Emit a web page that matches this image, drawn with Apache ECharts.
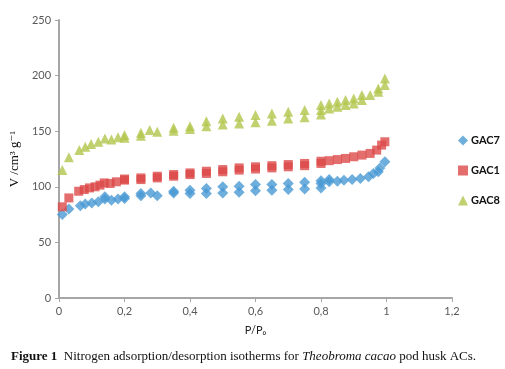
<!DOCTYPE html>
<html>
<head>
<meta charset="utf-8">
<script src="https://cdn.jsdelivr.net/npm/echarts@6/dist/echarts.min.js"></script>
<style>
  html, body { margin: 0; padding: 0; background: #fff; }
  #chart { width: 505px; height: 369px; }
</style>
</head>
<body>
<div id="chart"></div>
<script>
// [P/P0, V] pares (adsorción + desorción)
const gac7 = [
  [0.01, 75], [0.03, 80], [0.065, 83], [0.08, 84.5], [0.1, 85.5], [0.12, 86.5],
  [0.14, 89], [0.14, 91], [0.16, 88], [0.18, 89], [0.2, 91], [0.2, 89.5],
  [0.25, 92], [0.25, 94], [0.28, 94.5], [0.3, 92], [0.35, 94.5], [0.35, 96],
  [0.4, 94], [0.4, 97], [0.45, 94], [0.45, 98.5], [0.5, 94.5], [0.5, 100],
  [0.55, 95], [0.55, 100.5], [0.6, 96.5], [0.6, 102], [0.65, 97], [0.65, 102],
  [0.7, 97.5], [0.7, 103], [0.75, 98], [0.75, 104], [0.8, 99], [0.8, 103],
  [0.8, 105.5], [0.825, 104.5], [0.825, 106.5], [0.85, 105], [0.87, 106],
  [0.895, 106.5], [0.92, 107.5], [0.945, 109], [0.96, 112], [0.975, 113.5],
  [0.98, 117], [0.995, 122.5]
]
const gac1 = [
  [0.01, 82], [0.03, 90], [0.06, 96], [0.077, 97.5], [0.093, 99], [0.11, 100],
  [0.125, 101.5], [0.138, 103.5], [0.156, 103], [0.175, 104.5], [0.2, 106], [0.2, 107],
  [0.25, 106.5], [0.25, 108], [0.3, 108], [0.3, 109.5], [0.35, 109.5], [0.35, 111],
  [0.4, 111], [0.4, 112.5], [0.45, 112], [0.45, 114], [0.5, 113.5], [0.5, 115.5],
  [0.55, 115], [0.55, 117], [0.6, 116], [0.6, 118], [0.65, 117], [0.65, 119],
  [0.7, 118], [0.7, 120], [0.75, 119], [0.75, 121], [0.8, 121], [0.8, 123],
  [0.825, 123.5], [0.85, 124.5], [0.875, 125.5], [0.9, 127], [0.925, 128.5],
  [0.95, 130], [0.97, 133], [0.985, 137.5], [0.995, 140.5]
]
const gac8 = [
  [0.01, 115], [0.03, 126.5], [0.062, 133], [0.08, 136], [0.098, 138.5], [0.12, 140.5],
  [0.14, 143.5], [0.16, 142.5], [0.18, 144.5], [0.2, 146.5], [0.2, 144],
  [0.25, 148.5], [0.25, 146], [0.277, 151], [0.3, 149.5], [0.35, 153], [0.35, 150.5],
  [0.4, 154.5], [0.4, 152], [0.45, 159], [0.45, 154.5], [0.5, 161.5], [0.5, 156],
  [0.55, 163], [0.55, 157], [0.6, 164.5], [0.6, 158], [0.65, 166], [0.65, 159.5],
  [0.7, 167.5], [0.7, 161.5], [0.75, 169], [0.75, 162.5], [0.8, 173.5], [0.8, 169],
  [0.8, 165], [0.825, 175], [0.825, 170.5], [0.85, 176.5], [0.85, 172],
  [0.875, 178], [0.875, 173.5], [0.9, 179.5], [0.9, 175], [0.925, 182.5], [0.925, 178],
  [0.95, 182.5], [0.975, 188.5], [0.975, 185.5], [0.995, 197.5], [0.995, 191.5]
]

const axisGray = '#a6a6a6'
const labelColor = '#595959'
const sansFont = 'Lato, "Open Sans", sans-serif'
const serifFont = '"Liberation Serif", "DejaVu Serif", serif'

const chart = echarts.init(document.getElementById('chart'))

chart.setOption({
  animation: false,
  title: {
    left: 6,
    top: 345,
    text: '{b|Figure 1}  Nitrogen adsorption/desorption isotherms for {i|Theobroma cacao} pod husk ACs.',
    textStyle: {
      fontFamily: serifFont,
      fontSize: 13,
      fontWeight: 'normal',
      color: '#111',
      rich: {
        b: {fontFamily: serifFont, fontSize: 13, fontWeight: 'bold', color: '#111'},
        i: {fontFamily: serifFont, fontSize: 13, fontStyle: 'italic', color: '#111'}
      }
    }
  },
  legend: {
    orient: 'vertical',
    left: 453,
    top: 130,
    itemGap: 19,
    itemWidth: 10,
    itemHeight: 10,
    textStyle: {fontFamily: sansFont, fontSize: 11, fontWeight: 'bold', color: '#111', padding: [0, 0, 0, -2]},
    data: ['GAC7', 'GAC1', 'GAC8']
  },
  grid: {left: 57, right: 53, top: 20, bottom: 71},
  xAxis: {
    type: 'value',
    min: 0,
    max: 1.2,
    interval: 0.2,
    name: 'P/P\u2080',
    nameLocation: 'middle',
    nameGap: 27,
    nameTextStyle: {fontFamily: sansFont, fontSize: 11, color: '#222'},
    axisLine: {lineStyle: {color: axisGray, width: 2}},
    axisTick: {show: true, length: 4, lineStyle: {color: axisGray}},
    axisLabel: {
      fontFamily: sansFont, fontSize: 11, color: labelColor, margin: 8,
      formatter: v => String(+v.toFixed(1)).replace('.', ',')
    },
    splitLine: {show: false}
  },
  yAxis: {
    type: 'value',
    min: 0,
    max: 250,
    interval: 50,
    name: 'V /cm\u00B3 g\u207B\u00B9',
    nameLocation: 'middle',
    nameRotate: 90,
    nameGap: 31,
    nameTextStyle: {fontFamily: serifFont, fontSize: 13, color: '#111'},
    axisLine: {show: true, lineStyle: {color: axisGray, width: 2}},
    axisTick: {show: true, length: 4, lineStyle: {color: axisGray}},
    axisLabel: {fontFamily: sansFont, fontSize: 11, color: labelColor, margin: 8},
    splitLine: {show: false}
  },
  series: [
    {
      name: 'GAC7', type: 'scatter', data: gac7,
      symbol: 'diamond', symbolSize: 11,
      itemStyle: {color: '#4a9ad4'}
    },
    {
      name: 'GAC1', type: 'scatter', data: gac1,
      symbol: 'rect', symbolSize: 9,
      itemStyle: {color: '#dc4a48'}
    },
    {
      name: 'GAC8', type: 'scatter', data: gac8,
      symbol: 'triangle', symbolSize: 10,
      itemStyle: {color: '#b3c64c'}
    }
  ]
})
</script>
</body>
</html>
